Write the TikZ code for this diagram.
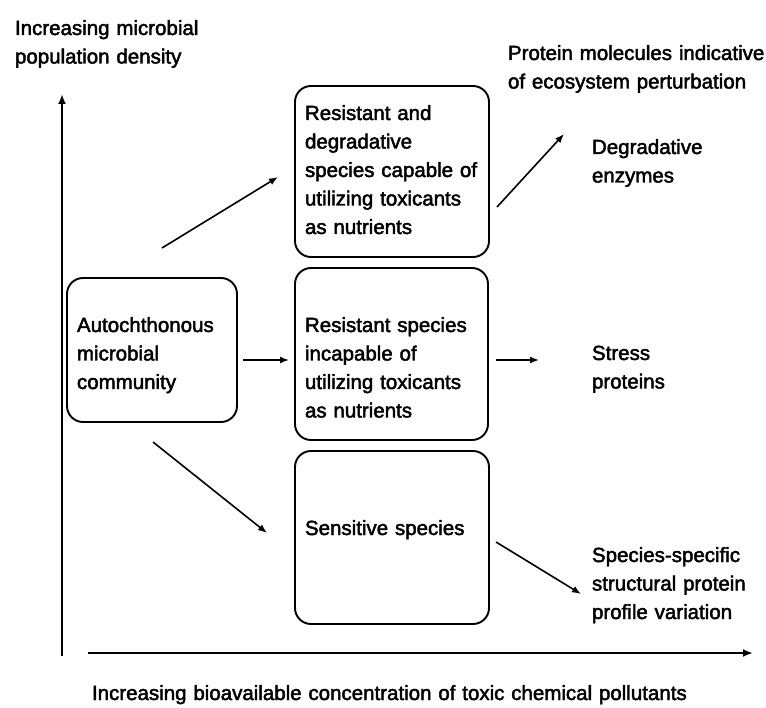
\documentclass[tikz,border=0pt]{standalone}
\usepackage{fontspec}
\setmainfont{Liberation Sans}[UprightFeatures={FakeBold=2.2}]
\usetikzlibrary{arrows.meta}
\begin{document}
\begin{tikzpicture}[x=1pt,y=-1pt,
  txt/.style={anchor=base west, inner sep=0pt, outer sep=0pt, align=left,
    text width=300pt, font=\fontsize{20.5}{28.5}\selectfont},
  stage/.style={draw, line width=1.9pt, rounded corners=16pt, inner sep=0pt},
  flow/.style={line width=1.6pt, -{Latex[length=9pt,width=7pt]}},
  axis/.style={line width=2.6pt, -{Latex[length=10pt,width=8pt]}}
]
\useasboundingbox (0,0) rectangle (766,708);

% axes
\coordinate (origin) at (62,656);
\coordinate (ytip) at (62,94);
\coordinate (xstart) at (88,653);
\coordinate (xtip) at (753,653);
\draw[axis] (origin) -- (ytip);
\draw[axis] (xstart) -- (xtip);

\node[txt] (ylabel) at (15,35) {Increasing microbial\\population density};
\node[txt, text width=700pt] (xlabel) at (92,700) {Increasing bioavailable concentration of toxic chemical pollutants};
\node[txt] (plabel) at (508,60) {Protein molecules indicative\\of ecosystem perturbation};

% community boxes
\node[stage, minimum width=170pt, minimum height=144pt] (auto) at (152,350) {};
\node[stage, minimum width=194pt, minimum height=171pt] (top) at (392,171.5) {};
\node[stage, minimum width=193pt, minimum height=172pt] (mid) at (391.5,354) {};
\node[stage, minimum width=194pt, minimum height=173pt] (bot) at (392,537.5) {};

\node[txt] (autotxt) at (77,332) {Autochthonous\\microbial\\community};
\node[txt] (toptxt) at (305,120) {Resistant and\\degradative\\species capable of\\utilizing toxicants\\as nutrients};
\node[txt] (midtxt) at (305,332) {Resistant species\\incapable of\\utilizing toxicants\\as nutrients};
\node[txt] (bottxt) at (305,535) {Sensitive species};

% protein responses
\node[txt] (degr) at (592,154) {Degradative\\enzymes};
\node[txt] (stress) at (592,360) {Stress\\proteins};
\node[txt] (struct) at (592,562) {Species-specific\\structural protein\\profile variation};

% connector ends
\coordinate (a1) at (162,248);  \coordinate (a2) at (278,177);
\coordinate (b1) at (243,360);  \coordinate (b2) at (289,360);
\coordinate (c1) at (153,442);  \coordinate (c2) at (267,533);
\coordinate (d1) at (497,207);  \coordinate (d2) at (564,134);
\coordinate (e1) at (496,360);  \coordinate (e2) at (539,360);
\coordinate (f1) at (496,542);  \coordinate (f2) at (581,594);

\draw[flow] (a1) -- (a2);
\draw[flow] (b1) -- (b2);
\draw[flow] (c1) -- (c2);
\draw[flow] (d1) -- (d2);
\draw[flow] (e1) -- (e2);
\draw[flow] (f1) -- (f2);
\end{tikzpicture}
\end{document}
